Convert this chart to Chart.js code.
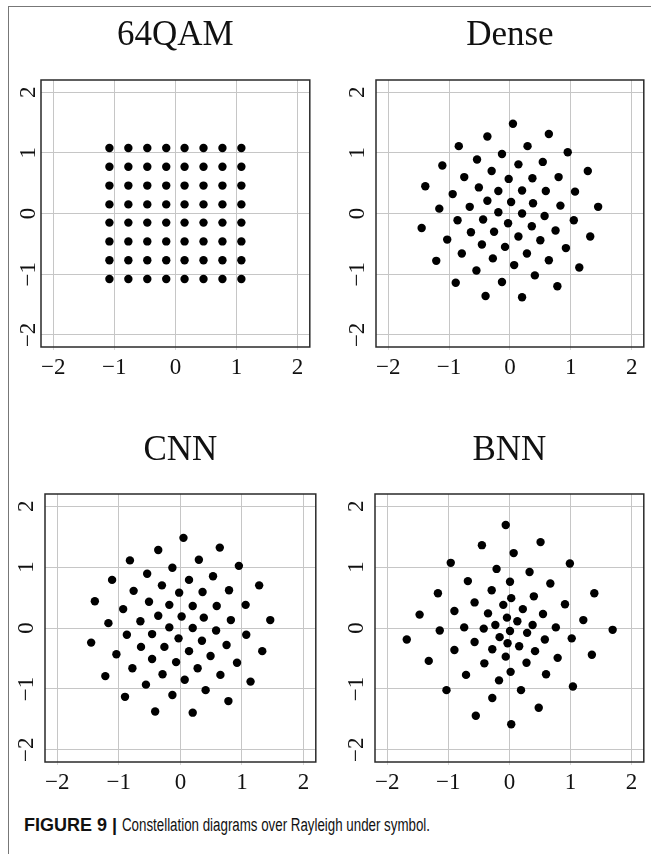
<!DOCTYPE html>
<html>
<head>
<meta charset="utf-8">
<script src="https://cdn.jsdelivr.net/npm/chart.js@4.4.1/dist/chart.umd.min.js"></script>
<style>
  html, body { margin: 0; padding: 0; background: #fff; }
  body { width: 651px; height: 854px; position: relative; overflow: hidden; }
  .frame {
    position: absolute; left: 8px; top: 6px; width: 700px; height: 900px;
    border-top: 1.5px solid #777; border-left: 1.5px solid #777;
  }
  canvas { position: absolute; }
  .caption {
    position: absolute; left: 24px; top: 815px; white-space: nowrap;
    font-family: "Liberation Sans", Arial, sans-serif; font-size: 18px; color: #111;
  }
  .caption b { font-weight: bold; }
  .caption span { display: inline-block; transform: scaleX(0.74); transform-origin: left center; }
</style>
</head>
<body>
<div class="frame"></div>
<canvas id="qam" width="303" height="370" style="left:11px; top:10px"></canvas>
<canvas id="dense" width="302" height="370" style="left:346px; top:10px"></canvas>
<canvas id="cnn" width="305" height="371" style="left:15px; top:424px"></canvas>
<canvas id="bnn" width="303" height="371" style="left:345px; top:424px"></canvas>
<div class="caption"><b>FIGURE 9 |</b> <span>Constellation diagrams over Rayleigh under symbol.</span></div>

<script>
// axis ticks shared by every panel
const tickValues = [-2, -1, 0, 1, 2];

// 64QAM reference grid (I and Q use the same levels)
const qamLevels = [-1.08, -0.77, -0.46, -0.15, 0.15, 0.46, 0.77, 1.08];

// learned constellation, Dense decoder
const denseI = [0.05, -0.37, 0.64, -0.84, 0.29, -0.13, 0.95, -1.11, -0.54, 0.14, 0.54, 1.28,
  -0.75, -0.30, -0.02, 0.37, 0.80, -1.39, -0.94, -0.51, -0.19, 0.20, 0.59, 1.07,
  -1.16, -0.66, -0.37, 0.02, 0.38, 0.83, 1.45, -0.19, 0.20, -1.45, -0.86, -0.44,
  -0.03, 0.57, 1.05, -1.03, -0.64, -0.26, 0.36, 0.75, 1.32, -0.79, -0.46, -0.08,
  0.14, 0.50, 0.92, -1.21, -0.28, 0.28, 0.64, -0.55, 0.07, 1.14, -0.89, -0.13,
  0.41, 0.78, -0.40, 0.20];
const denseQ = [1.48, 1.27, 1.31, 1.11, 1.11, 0.98, 1.01, 0.79, 0.89, 0.81, 0.85, 0.70,
  0.60, 0.70, 0.57, 0.58, 0.60, 0.45, 0.32, 0.43, 0.37, 0.38, 0.37, 0.36,
  0.08, 0.11, 0.21, 0.19, 0.17, 0.13, 0.11, 0.02, 0.00, -0.24, -0.11, -0.10,
  -0.16, -0.04, -0.11, -0.43, -0.31, -0.30, -0.21, -0.28, -0.38, -0.66, -0.51, -0.55,
  -0.38, -0.44, -0.57, -0.78, -0.74, -0.66, -0.77, -0.94, -0.85, -0.89, -1.14, -1.13,
  -1.02, -1.20, -1.36, -1.38];

// learned constellation, CNN decoder
const cnnI = [0.05, -0.36, 0.64, -0.82, 0.30, -0.13, 0.95, -1.11, -0.54, 0.14, 0.53, 1.28,
  -0.76, -0.30, -0.02, 0.36, 0.79, -1.39, -0.93, -0.51, -0.18, 0.20, 0.59, 1.06,
  -1.17, -0.65, -0.36, 0.02, 0.38, 0.82, 1.46, -0.18, 0.20, -1.45, -0.87, -0.46,
  -0.03, 0.58, 1.07, -1.04, -0.64, -0.26, 0.35, 0.75, 1.33, -0.78, -0.46, -0.07,
  0.14, 0.49, 0.92, -1.22, -0.29, 0.28, 0.65, -0.56, 0.07, 1.14, -0.90, -0.13,
  0.41, 0.78, -0.41, 0.20];
const cnnQ = [1.48, 1.28, 1.32, 1.11, 1.12, 0.99, 1.02, 0.79, 0.89, 0.79, 0.85, 0.70,
  0.61, 0.70, 0.58, 0.59, 0.62, 0.44, 0.31, 0.43, 0.38, 0.36, 0.36, 0.38,
  0.08, 0.11, 0.20, 0.19, 0.17, 0.13, 0.13, 0.01, 0.00, -0.24, -0.11, -0.10,
  -0.17, -0.04, -0.11, -0.43, -0.31, -0.31, -0.21, -0.28, -0.38, -0.66, -0.51, -0.56,
  -0.38, -0.46, -0.57, -0.79, -0.76, -0.66, -0.77, -0.93, -0.85, -0.88, -1.13, -1.10,
  -1.02, -1.20, -1.37, -1.39];

// learned constellation, BNN decoder
const bnnI = [-0.06, -0.45, 0.51, 0.07, -0.96, 0.99, -0.21, 0.33, -0.68, 0.01, 0.67, -1.17,
  -0.29, 1.39, -0.57, 0.03, 0.40, 0.91, -0.10, -1.47, -0.90, -0.35, 0.22, 0.55,
  -0.04, 0.13, 1.21, -1.14, -0.74, -0.42, -0.23, 0.38, 0.76, 0.01, 1.69, -1.68,
  -0.16, 0.29, 0.58, 1.02, -0.57, -0.03, -0.90, -0.28, 0.16, 0.42, -1.32, -0.06,
  0.79, -0.41, 0.28, 1.35, -0.71, 0.02, 0.60, -0.17, -1.03, 0.19, 1.04, -0.28,
  0.48, -0.55, 0.03];
const bnnQ = [1.69, 1.36, 1.41, 1.23, 1.07, 1.06, 0.97, 0.92, 0.77, 0.76, 0.73, 0.57,
  0.62, 0.57, 0.42, 0.49, 0.52, 0.39, 0.38, 0.22, 0.28, 0.24, 0.31, 0.23,
  0.17, 0.11, 0.13, -0.04, 0.01, -0.01, 0.05, 0.05, 0.01, -0.05, -0.03, -0.19,
  -0.15, -0.08, -0.19, -0.17, -0.23, -0.25, -0.36, -0.35, -0.30, -0.38, -0.54, -0.47,
  -0.49, -0.58, -0.57, -0.44, -0.77, -0.72, -0.76, -0.86, -1.02, -1.02, -0.96, -1.15,
  -1.31, -1.44, -1.58];

const qamI = [];
const qamQ = [];
qamLevels.forEach(q => {
    qamLevels.forEach(i => {
        qamI.push(i);
        qamQ.push(q);
    });
});

// dark box round the plot area
const frameBox = {
    id: "frameBox",
    afterDraw(chart) {
        const { ctx, chartArea: a } = chart;
        ctx.save();
        ctx.strokeStyle = "#2a2a2a";
        ctx.lineWidth = 1.5;
        ctx.strokeRect(a.left, a.top, a.right - a.left, a.bottom - a.top);
        ctx.restore();
    }
};

const serif = "'Liberation Serif', 'Times New Roman', serif";
const fmt = v => (v < 0 ? "\u2212" + Math.abs(v) : String(v));
const setTicks = scale => { scale.ticks = tickValues.map(v => ({ value: v })); };

function makePanel(id, title, xs, ys, titlePad, yPad) {
    const points = xs.map((x, k) => ({ x: x, y: ys[k] }));

    new Chart(document.getElementById(id), {
        type: "scatter",
        data: {
            datasets: [{
                data: points,
                backgroundColor: "#000",
                borderWidth: 0,
                pointRadius: 4.2,
                pointHoverRadius: 4.2
            }]
        },
        options: {
            responsive: false,
            animation: false,
            events: [],
            layout: { padding: { right: 4 } },
            plugins: {
                legend: { display: false },
                tooltip: { enabled: false },
                title: {
                    display: true,
                    text: title,
                    fullSize: false,
                    color: "#111",
                    font: { family: serif, size: 35, weight: "normal" },
                    padding: titlePad
                }
            },
            scales: {
                x: {
                    min: -2.2,
                    max: 2.2,
                    afterBuildTicks: setTicks,
                    afterFit: s => { s.height = 33; },
                    border: { display: false },
                    grid: { color: "#c6c6c6", lineWidth: 1, tickLength: 3, tickColor: "#d8d8d8" },
                    ticks: { color: "#111", padding: 4, font: { family: serif, size: 23 }, callback: fmt }
                },
                y: {
                    min: -2.2,
                    max: 2.2,
                    afterBuildTicks: setTicks,
                    afterFit: s => { s.width = 30; },
                    border: { display: false },
                    grid: { color: "#c6c6c6", lineWidth: 1, drawTicks: false },
                    ticks: {
                        color: "#111",
                        padding: yPad,
                        minRotation: 90,
                        maxRotation: 90,
                        crossAlign: "center",
                        font: { family: serif, size: 23 },
                        callback: fmt
                    }
                }
            }
        },
        plugins: [frameBox]
    });
}

makePanel("qam", "64QAM", qamI, qamQ, { top: 5, bottom: 23 }, 0);
makePanel("dense", "Dense", denseI, denseQ, { top: 5, bottom: 23 }, 6);
makePanel("cnn", "CNN", cnnI, cnnQ, { top: 6, bottom: 22 }, 6);
makePanel("bnn", "BNN", bnnI, bnnQ, { top: 6, bottom: 22 }, 6);
</script>
</body>
</html>
